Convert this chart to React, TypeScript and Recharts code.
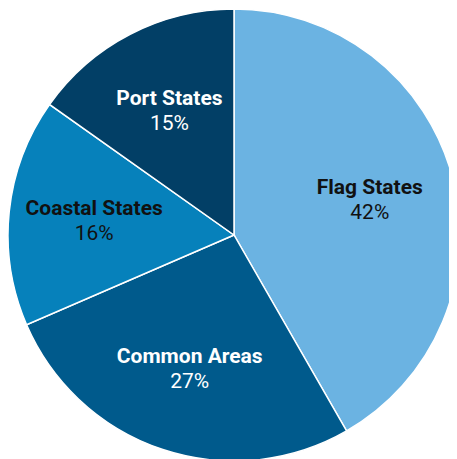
import React from "react";
import { PieChart, Pie, Cell } from "recharts";

const categories = ["Flag States", "Common Areas", "Coastal States", "Port States"];
const shares = [41.7, 26.8, 16.3, 15.2];
const shareLabels = ["42%", "27%", "16%", "15%"];
const colors = ["#6BB3E2", "#005A8C", "#0681BB", "#023F66"];
const textColors = ["#111111", "#FFFFFF", "#111111", "#FFFFFF"];

const data = categories.map((name, i) => ({ name, value: shares[i], label: shareLabels[i] }));

const RADIAN = Math.PI / 180;

const renderLabel = (props: any) => {
  const { cx, cy, midAngle, outerRadius, index } = props;
  const r = outerRadius * 0.622;
  const x = cx + r * Math.cos(-midAngle * RADIAN);
  const y = cy + r * Math.sin(-midAngle * RADIAN);
  const fill = textColors[index];
  return (
    <g>
      <text
        x={x}
        y={y - 12}
        textAnchor="middle"
        dominantBaseline="central"
        fill={fill}
        style={{ fontFamily: "Roboto", fontWeight: 700, fontSize: 21 }}
      >
        {data[index].name}
      </text>
      <text
        x={x}
        y={y + 13}
        textAnchor="middle"
        dominantBaseline="central"
        fill={fill}
        style={{ fontFamily: "Roboto", fontWeight: 400, fontSize: 21 }}
      >
        {data[index].label}
      </text>
    </g>
  );
};

export default function App() {
  return (
    <PieChart width={449} height={451} margin={{ top: 0, right: 0, bottom: 0, left: 0 }}>
      <Pie
        data={data}
        dataKey="value"
        nameKey="name"
        cx={226}
        cy={227}
        outerRadius={226}
        startAngle={90}
        endAngle={-270}
        stroke="#FFFFFF"
        strokeWidth={1.5}
        label={renderLabel}
        labelLine={false}
        isAnimationActive={false}
      >
        {data.map((d, i) => (
          <Cell key={d.name} fill={colors[i]} />
        ))}
      </Pie>
    </PieChart>
  );
}
